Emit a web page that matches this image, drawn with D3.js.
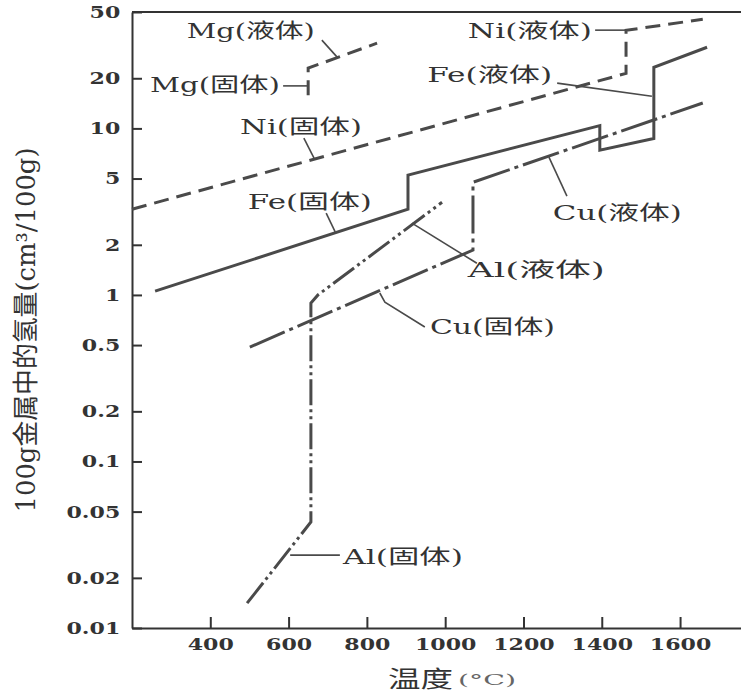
<!DOCTYPE html>
<html>
<head>
<meta charset="utf-8">
<script src="https://cdn.jsdelivr.net/npm/d3@7"></script>
<style>
  body { margin: 0; background: #fff; }
  text { font-family: "DejaVu Serif", "Noto Sans CJK SC", serif; fill: #333; }
</style>
</head>
<body>
<div id="chart"></div>
<script>
// tick values and labels
const xTicks = [400, 600, 800, 1000, 1200, 1400, 1600]
const yTicks = [0.01, 0.02, 0.05, 0.1, 0.2, 0.5, 1, 2, 5, 10, 20, 50]
const yTickLabels = ["0.01", "0.02", "0.05", "0.1", "0.2", "0.5", "1", "2", "5", "10", "20", "50"]

// hydrogen solubility (cm3 / 100g metal) vs temperature (°C)
const mgTemp  = [650, 650, 826]
const mgValue = [15.8, 23, 32.5]
const niTemp  = [200, 1462, 1462, 1658]
const niValue = [3.27, 21.4, 38.8, 45.2]
const feTemp  = [259, 905, 905, 1395, 1395, 1533, 1533, 1669]
const feValue = [1.054, 3.27, 5.24, 10.4, 7.4, 8.7, 23.3, 30.7]
const cuTemp  = [501, 1071, 1071, 1658]
const cuValue = [0.486, 1.86, 4.75, 14.2]
const alTemp  = [494, 657, 657, 675, 992]
const alValue = [0.0141, 0.0433, 0.893, 1.0, 3.6]

// labels: text, anchor (temperature, value) and leader line (temperature, value) pairs
const labelText  = ["Mg(液体)", "Mg(固体)", "Ni(固体)", "Fe(固体)", "Ni(液体)", "Fe(液体)", "Cu(液体)", "Al(液体)", "Cu(固体)", "Al(固体)"]
const labelTemp  = [340, 246, 476, 496, 1058, 954, 1275, 1058, 961, 739]
const labelValue = [38.4, 18.2, 10.2, 3.61, 38.4, 20.9, 3.10, 1.41, 0.642, 0.0267]
const leaderTemp  = [[685, 724], [586, 650], [639, 665], [696, 719], [1383, 1464], [1286, 1528], [1311, 1265], [1081, 915], [948, 846, 833], [731, 604]]
const leaderValue = [[33.9, 26.8], [18, 18], [8.75, 6.64], [3.10, 2.39], [38.9, 38.9], [18.7, 15.6], [3.92, 6.73], [1.55, 2.70], [0.642, 0.906, 1.027], [0.0274, 0.0274]]

const width = 741, height = 693
const lineColor = "#4a4a4a"

const svg = d3.select("#chart")
  .append("svg")
    .attr("width", width)
    .attr("height", height)

const x = d3.scaleLinear().domain([200, 1760]).range([132, 742.7])
const y = d3.scaleLog().domain([0.01, 50]).range([628, 12])

// axes (ticks point inward)
const yAxis = svg.append("g")
  .attr("transform", "translate(132,0)")
  .call(d3.axisLeft(y)
    .tickValues(yTicks)
    .tickFormat((d, i) => yTickLabels[i])
    .tickSizeInner(-10)
    .tickSizeOuter(0)
    .tickPadding(9))

const xAxis = svg.append("g")
  .attr("transform", "translate(0,628)")
  .call(d3.axisBottom(x)
    .tickValues(xTicks)
    .tickFormat(d3.format("d"))
    .tickSizeInner(-11)
    .tickSizeOuter(0)
    .tickPadding(10))

;[xAxis, yAxis].forEach(g => {
  g.select(".domain").attr("stroke", "#333").attr("stroke-width", 2)
  g.selectAll(".tick line").attr("stroke", "#333").attr("stroke-width", 2)
  g.selectAll(".tick text")
    .attr("font-family", '"DejaVu Serif", serif')
    .attr("font-weight", "bold")
    .attr("font-size", 17)
    .attr("fill", "#333")
    .attr("transform", "scale(1.3,1)")
})

// top frame line
svg.append("line")
  .attr("x1", x.range()[0]).attr("x2", width)
  .attr("y1", y(50)).attr("y2", y(50))
  .attr("stroke", "#333")
  .attr("stroke-width", 2)

// curves
const series = [
  { temps: mgTemp, values: mgValue, dash: "15,8" },
  { temps: niTemp, values: niValue, dash: "15,8" },
  { temps: feTemp, values: feValue, dash: null },
  { temps: cuTemp, values: cuValue, dash: "38,5,4,5" },
  { temps: alTemp, values: alValue, dash: "26,4,3,4,3,4" }
]

const line = d3.line()
  .x(d => x(d[0]))
  .y(d => y(d[1]))

series.forEach(s => {
  svg.append("path")
    .datum(s.temps.map((t, i) => [t, s.values[i]]))
    .attr("fill", "none")
    .attr("stroke", lineColor)
    .attr("stroke-width", 3)
    .attr("stroke-linejoin", "miter")
    .attr("stroke-dasharray", s.dash)
    .attr("d", line)
})

// leader lines and labels
const labelWidths = [128, 130, 122, 124, 124, 125, 129, 137, 125, 120]

labelText.forEach((txt, i) => {
  svg.append("path")
    .datum(leaderTemp[i].map((t, j) => [t, leaderValue[i][j]]))
    .attr("fill", "none")
    .attr("stroke", lineColor)
    .attr("stroke-width", 1.6)
    .attr("d", line)

  svg.append("text")
    .attr("x", x(labelTemp[i]))
    .attr("y", y(labelValue[i]))
    .attr("dy", "0.36em")
    .attr("font-size", 20)
    .attr("textLength", labelWidths[i])
    .attr("lengthAdjust", "spacingAndGlyphs")
    .text(txt)
})

// axis titles
svg.append("text")
  .attr("transform", "translate(35,330) scale(1.3,1) rotate(-90)")
  .attr("text-anchor", "middle")
  .attr("font-size", 20)
  .attr("textLength", 365)
  .attr("lengthAdjust", "spacingAndGlyphs")
  .text("100g金属中的氢量(cm³/100g)")

svg.append("text")
  .attr("x", 388)
  .attr("y", 687)
  .attr("font-size", 23)
  .attr("textLength", 65)
  .attr("lengthAdjust", "spacingAndGlyphs")
  .text("温度")

svg.append("text")
  .attr("x", 458)
  .attr("y", 685)
  .attr("font-size", 15)
  .attr("textLength", 58)
  .attr("lengthAdjust", "spacingAndGlyphs")
  .style("fill", "#666")
  .text("(°C)")
</script>
</body>
</html>
